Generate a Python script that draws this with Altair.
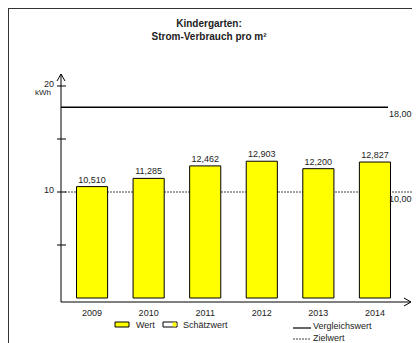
import altair as alt
import pandas as pd

# ---- data ----
years = ["2009", "2010", "2011", "2012", "2013", "2014"]
values = [10.510, 11.285, 12.462, 12.903, 12.200, 12.827]
ref_names = ["Vergleichswert", "Zielwert"]
ref_values = [18.0, 10.0]
y_ticks = [5, 10, 15, 20]
y_tick_labels = [10, 20]
title_lines = ["Kindergarten:", "Strom-Verbrauch pro m²"]

# ---- layout (page pixels) ----
X0, Y0 = 61, 86          # plot origin on page
W, H = 345, 212          # plot area
FONT = "Liberation Sans"
TXT = "#222222"

df = pd.DataFrame({"year": years, "value": values})
verg_df = pd.DataFrame({"value": [ref_values[0]]})
ziel_df = pd.DataFrame({"value": [ref_values[1]]})
refs = pd.DataFrame({"name": ref_names, "value": ref_values})
ticks = pd.DataFrame({"v": y_ticks})
tlabels = pd.DataFrame({"v": y_tick_labels})
one = pd.DataFrame({"a": [0]})

yscale = alt.Scale(domain=[0, 20], nice=False, zero=True)
xscale = alt.Scale(domain=years, paddingInner=0.45, paddingOuter=0.274)
xaxis = alt.Axis(title=None, domain=False, ticks=False, labelAngle=0,
                 labelFont=FONT, labelFontSize=9, labelColor=TXT, labelPadding=10)


def Y(field):
    return alt.Y(field, scale=yscale, axis=None)


def px(x):
    return alt.value(x - X0)


def py(y):
    return alt.value(y - Y0)


def seg(x1, y1, x2, y2, color="#000000", width=1.0, dash=None):
    kw = dict(color=color, strokeWidth=width)
    if dash:
        kw["strokeDash"] = dash
    return alt.Chart(one).mark_rule(**kw).encode(x=px(x1), x2=px(x2), y=py(y1), y2=py(y2))


def label(text, x, y, size=9, bold=False, align="left"):
    return alt.Chart(one).mark_text(
        text=text, font=FONT, fontSize=size, fontWeight="bold" if bold else "normal",
        align=align, baseline="middle", color=TXT
    ).encode(x=px(x), y=py(y))


def box(x1, y1, x2, y2, fill, stroke="#000000"):
    return alt.Chart(one).mark_rect(fill=fill, stroke=stroke, strokeWidth=1).encode(
        x=px(x1), x2=px(x2), y=py(y1), y2=py(y2))


bars = alt.Chart(df).mark_bar(color="#FFFF00", stroke="#000000", strokeWidth=1).encode(
    x=alt.X("year:N", scale=xscale, axis=xaxis),
    y=Y("value:Q"),
)

bar_labels = alt.Chart(df).transform_calculate(
    lab="replace(format(datum.value, '.3f'), '.', ',')"
).mark_text(font=FONT, fontSize=9, color=TXT, baseline="bottom", dy=-2).encode(
    x=alt.X("year:N", scale=xscale, axis=xaxis),
    y=Y("value:Q"),
    text="lab:N",
)

verg = alt.Chart(verg_df).mark_rule(color="#000000", strokeWidth=1.5).encode(
    y=Y("value:Q"), x=px(61), x2=px(388))
ziel = alt.Chart(ziel_df).mark_rule(color="#444444", strokeWidth=1, strokeDash=[2, 1]).encode(
    y=Y("value:Q"), x=px(65), x2=px(412))
ref_labels = alt.Chart(refs).transform_calculate(
    lab="replace(format(datum.value, '.2f'), '.', ',')"
).mark_text(font=FONT, fontSize=9, color=TXT, align="left", baseline="middle", dy=7).encode(
    y=Y("value:Q"), x=px(389), text="lab:N")

tick_marks = alt.Chart(ticks).mark_rule(color="#000000", strokeWidth=1).encode(
    y=Y("v:Q"), x=px(57), x2=px(66))
tick_text = alt.Chart(tlabels).mark_text(
    font=FONT, fontSize=9, color=TXT, align="right", baseline="middle", dy=-2).encode(
    y=Y("v:Q"), x=px(54), text="v:Q")

layers = [
    # frame
    seg(8, 8.5, 412, 8.5, "#333333"),
    seg(8.5, 8, 8.5, 343, "#333333"),
    # axes with arrows
    seg(61, 302, 61, 74),
    seg(61, 74, 57, 81),
    seg(61, 74, 65, 81),
    seg(61, 302, 411, 302),
    seg(411, 302, 404, 298),
    seg(411, 302, 404, 306),
    ziel, bars, verg, bar_labels, ref_labels, tick_marks, tick_text,
    label("kWh", 51, 93, size=8, align="right"),
    label(title_lines[0], 209, 24, size=10, bold=True, align="center"),
    label(title_lines[1], 209, 37, size=10, bold=True, align="center"),
    # legend
    box(115, 322, 129, 327, "#FFFF00"),
    label("Wert", 136, 325),
    box(163, 322, 177, 327, "#FFFFFF"),
    box(173, 323, 176, 326, "#FFFF00", stroke="#FFFF00"),
    label("Schätzwert", 183, 325),
    seg(293, 328, 311, 328, "#000000", 1.2),
    label("Vergleichswert", 313, 326),
    seg(293, 339, 311, 339, "#444444", 1, [2, 1]),
    label("Zielwert", 313, 338),
]

chart = alt.layer(*layers).properties(
    width=W, height=H,
    background="#FFFFFF",
    autosize=alt.AutoSizeParams(type="none"),
    padding={"left": X0 - 8, "top": Y0 - 8, "right": 404 - (X0 - 8) - W, "bottom": 335 - (Y0 - 8) - H},
).configure_view(strokeWidth=0)

chart.save("out.html", embed_options={"renderer": "svg", "actions": False})
